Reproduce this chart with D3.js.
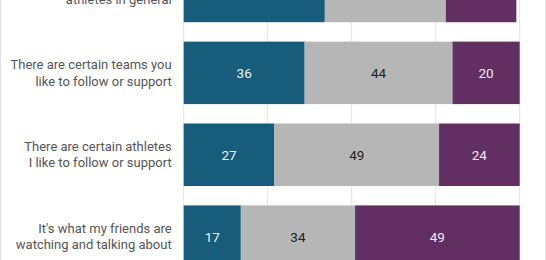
<!DOCTYPE html>
<html>
<head>
<meta charset="utf-8">
<script src="https://cdn.jsdelivr.net/npm/d3@7"></script>
<style>
  body { margin: 0; background: #fff; }
  svg { display: block; font-family: Roboto, "Noto Sans", sans-serif; }
</style>
</head>
<body>
<div id="chart"></div>
<script>
// reasons, top to bottom (first one is cut off at the top of the picture)
const reasons = [
  ["I like to follow sports and", "athletes in general"],
  ["There are certain teams you", "like to follow or support"],
  ["There are certain athletes", "I like to follow or support"],
  ["It's what my friends are", "watching and talking about"]
]
const seriesNames = ["major", "minor", "not"]
const major = [42, 36, 27, 17]
const minor = [36, 44, 49, 34]
const notReason = [21, 20, 24, 49]
const xTicks = [0, 25, 50, 75, 100]

const colors = { major: "#175c7a", minor: "#b6b6b6", not: "#622f62" }
const textColors = { major: "#eef2f4", minor: "#1e1e1e", not: "#eeeaee" }

const width = 546
const height = 260

const svg = d3.select("#chart")
  .append("svg")
  .attr("width", width)
  .attr("height", height)

// frame lines on the edges
svg.append("line").attr("x1", 0.5).attr("x2", 0.5).attr("y1", 0).attr("y2", height)
  .attr("stroke", "#e2e2e2")
svg.append("line").attr("x1", 545.5).attr("x2", 545.5).attr("y1", 0).attr("y2", height)
  .attr("stroke", "#e2e2e2")

const x = d3.scaleLinear().domain([0, 100]).range([183.7, 519.7])
const y = d3.scaleBand()
  .domain(reasons.map((d, i) => i))
  .range([-50, 277.6])
  .paddingInner(0.237)
  .paddingOuter(0.1185)

// gridlines
svg.append("g")
  .selectAll("line")
  .data(xTicks)
  .join("line")
  .attr("x1", d => x(d))
  .attr("x2", d => x(d))
  .attr("y1", 0)
  .attr("y2", height)
  .attr("stroke", "#e4e4e4")
  .attr("stroke-width", 1)

// stack the values
const rows = reasons.map((r, i) => ({ i, major: major[i], minor: minor[i], not: notReason[i] }))
const stacked = d3.stack().keys(seriesNames)(rows)

const layer = svg.append("g")
  .selectAll("g")
  .data(stacked)
  .join("g")

layer.selectAll("rect")
  .data(s => s.map(d => ({ key: s.key, d })))
  .join("rect")
  .attr("x", v => x(v.d[0]))
  .attr("y", v => y(v.d.data.i))
  .attr("width", v => x(v.d[1]) - x(v.d[0]))
  .attr("height", y.bandwidth())
  .attr("fill", v => colors[v.key])

layer.selectAll("text")
  .data(s => s.map(d => ({ key: s.key, d })))
  .join("text")
  .attr("x", v => (x(v.d[0]) + x(v.d[1])) / 2)
  .attr("y", v => y(v.d.data.i) + y.bandwidth() / 2)
  .attr("text-anchor", "middle")
  .attr("dominant-baseline", "central")
  .attr("font-size", "13.5px")
  .attr("fill", v => textColors[v.key])
  .text(v => v.d.data[v.key])

// category labels, two lines each
const labels = svg.append("g")
  .selectAll("text")
  .data(reasons)
  .join("text")
  .attr("text-anchor", "end")
  .attr("font-size", "13px")
  .attr("fill", "#555")

labels.selectAll("tspan")
  .data((d, i) => d.map((line, j) => ({ line, j, i })))
  .join("tspan")
  .attr("x", 171.7)
  .attr("y", t => y(t.i) + y.bandwidth() / 2 + (t.j - 0.5) * 16.4)
  .attr("dominant-baseline", "central")
  .text(t => t.line)
</script>
</body>
</html>
